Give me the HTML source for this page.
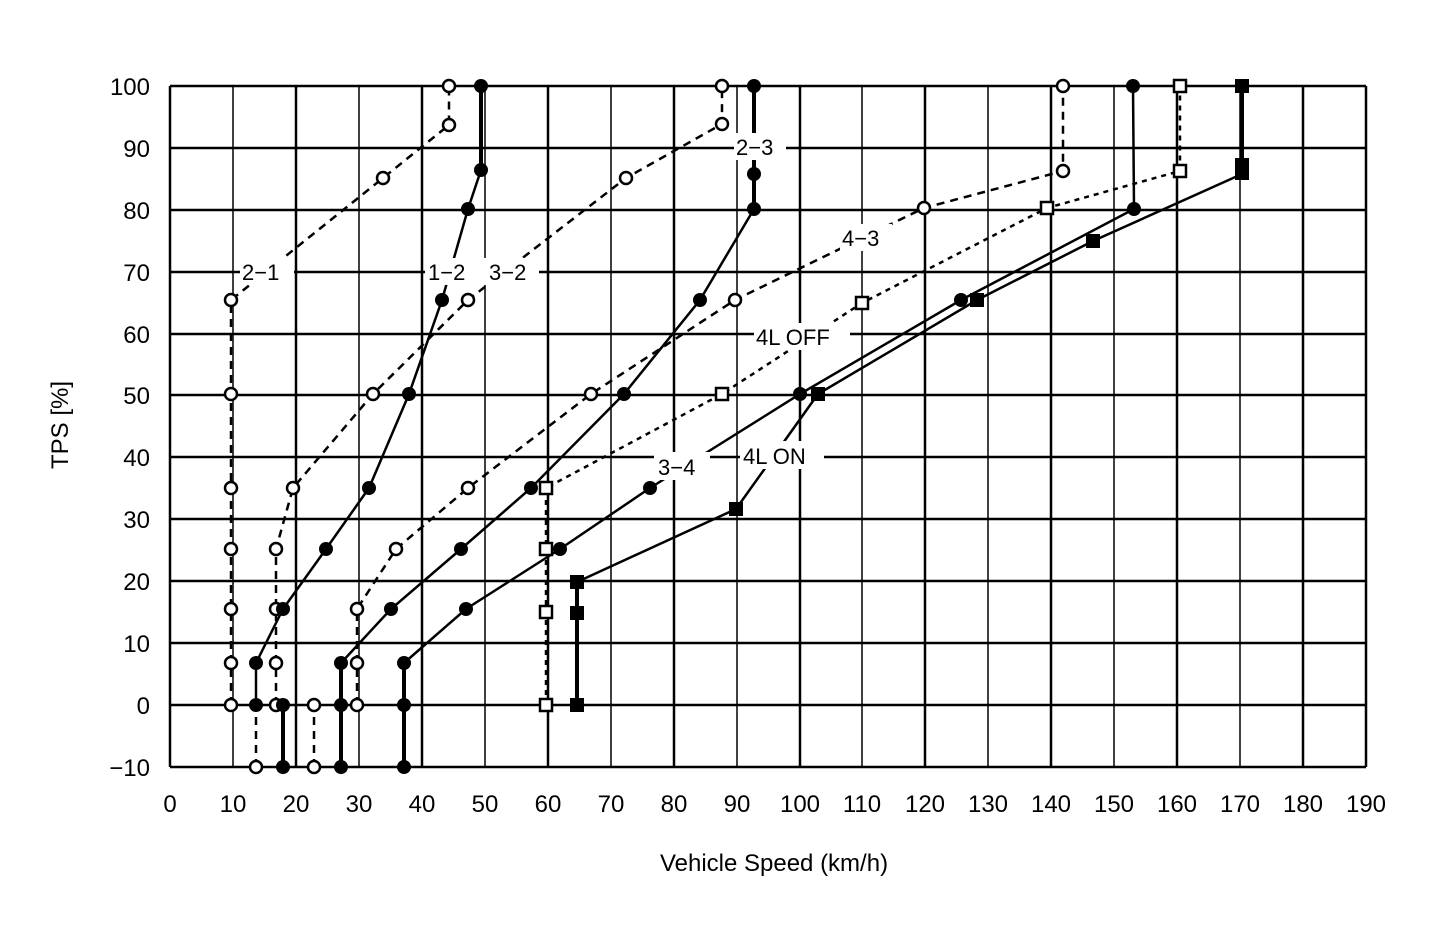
<!DOCTYPE html><html><head><style>body{margin:0;background:#fff}svg{display:block}text{font-family:"Liberation Sans",sans-serif;fill:#000}</style></head><body>
<svg width="1440" height="934" viewBox="0 0 1440 934" xmlns="http://www.w3.org/2000/svg">
<g stroke="#000" fill="none">
<g stroke-width="2.5">
<line x1="170" y1="86" x2="1366" y2="86"/><line x1="170" y1="148" x2="1366" y2="148"/><line x1="170" y1="210" x2="1366" y2="210"/><line x1="170" y1="272" x2="1366" y2="272"/><line x1="170" y1="334" x2="1366" y2="334"/><line x1="170" y1="395" x2="1366" y2="395"/><line x1="170" y1="457" x2="1366" y2="457"/><line x1="170" y1="519" x2="1366" y2="519"/><line x1="170" y1="581" x2="1366" y2="581"/><line x1="170" y1="643" x2="1366" y2="643"/><line x1="170" y1="705" x2="1366" y2="705"/><line x1="170" y1="767" x2="1366" y2="767"/>
<line x1="170" y1="86" x2="170" y2="767"/><line x1="296" y1="86" x2="296" y2="767"/><line x1="422" y1="86" x2="422" y2="767"/><line x1="548" y1="86" x2="548" y2="767"/><line x1="674" y1="86" x2="674" y2="767"/><line x1="800" y1="86" x2="800" y2="767"/><line x1="925" y1="86" x2="925" y2="767"/><line x1="1051" y1="86" x2="1051" y2="767"/><line x1="1177" y1="86" x2="1177" y2="767"/><line x1="1303" y1="86" x2="1303" y2="767"/><line x1="1366" y1="86" x2="1366" y2="767"/>
</g>
<g stroke-width="1.5">
<line x1="233" y1="86" x2="233" y2="767"/><line x1="359" y1="86" x2="359" y2="767"/><line x1="485" y1="86" x2="485" y2="767"/><line x1="611" y1="86" x2="611" y2="767"/><line x1="737" y1="86" x2="737" y2="767"/><line x1="862" y1="86" x2="862" y2="767"/><line x1="988" y1="86" x2="988" y2="767"/><line x1="1114" y1="86" x2="1114" y2="767"/><line x1="1240" y1="86" x2="1240" y2="767"/>
</g>
<g stroke-width="2.5" stroke-dasharray="8,6">
<polyline points="231,705 231,300 383,178 449,125 449,86"/>
<polyline points="276,705 276,549 293,488 373,394 468,300 626,178 722,124 722,86"/>
<polyline points="357,705 357,609 396,549 468,488 591,394 735,300 924,208 1063,171 1063,86"/>
<polyline points="256,767 256,705"/><polyline points="314,767 314,705"/>
</g>
<g stroke-width="2.5" stroke-dasharray="5,5">
<polyline points="546,705 546,488 722,394 862,303 1047,208 1180,171 1180,86"/>
</g>
<g stroke-width="2.5">
<polyline points="256,705 256,663 283,609 326,549 369,488 409,394 442,300 468,209 481,170 481,86"/>
<polyline points="341,663 391,609 461,549 531,488 624,394 700,300 754,209 754,174 754,86"/>
<polyline points="404,663 466,609 560,549 650,488 800,394 961,300 1134,209 1133,86"/>
<polyline points="577,582 736,509 818,394 977,300 1093,241 1242,174"/>
</g>
<g stroke-width="4">
<polyline points="283,705 283,767"/><polyline points="341,663 341,767"/><polyline points="404,663 404,767"/><polyline points="577,582 577,705"/><polyline points="1242,174 1242,86"/><polyline points="481,170 481,86"/><polyline points="754,209 754,86"/>
</g>
</g>
<g fill="#fff">
<rect x="240" y="258" width="54" height="27"/><rect x="425" y="258" width="114" height="27"/><rect x="734" y="133" width="52" height="27"/><rect x="840" y="224" width="52" height="27"/><rect x="754" y="323" width="96" height="27"/><rect x="654" y="452" width="56" height="28"/><rect x="740" y="441" width="84" height="28"/>
</g>
<g font-size="22">
<text x="242" y="280">2−1</text><text x="428" y="280">1−2</text><text x="489" y="280">3−2</text><text x="736" y="155">2−3</text><text x="842" y="246">4−3</text><text x="756" y="345">4L OFF</text><text x="658" y="475">3−4</text><text x="743" y="464">4L ON</text>
</g>
<g stroke="#000" stroke-width="2.5" fill="#fff">
<circle cx="231" cy="300" r="6"/><circle cx="231" cy="394" r="6"/><circle cx="231" cy="488" r="6"/><circle cx="231" cy="549" r="6"/><circle cx="231" cy="609" r="6"/><circle cx="231" cy="663" r="6"/><circle cx="231" cy="705" r="6"/><circle cx="383" cy="178" r="6"/><circle cx="449" cy="125" r="6"/><circle cx="449" cy="86" r="6"/>
<circle cx="276" cy="549" r="6"/><circle cx="276" cy="609" r="6"/><circle cx="276" cy="663" r="6"/><circle cx="276" cy="705" r="6"/><circle cx="293" cy="488" r="6"/><circle cx="373" cy="394" r="6"/><circle cx="468" cy="300" r="6"/><circle cx="626" cy="178" r="6"/><circle cx="722" cy="124" r="6"/><circle cx="722" cy="86" r="6"/>
<circle cx="357" cy="705" r="6"/><circle cx="357" cy="663" r="6"/><circle cx="357" cy="609" r="6"/><circle cx="396" cy="549" r="6"/><circle cx="468" cy="488" r="6"/><circle cx="591" cy="394" r="6"/><circle cx="735" cy="300" r="6"/><circle cx="924" cy="208" r="6"/><circle cx="1063" cy="171" r="6"/><circle cx="1063" cy="86" r="6"/>
<circle cx="256" cy="767" r="6"/><circle cx="314" cy="767" r="6"/><circle cx="314" cy="705" r="6"/>
<rect x="540" y="699" width="12" height="12"/><rect x="540" y="606" width="12" height="12"/><rect x="540" y="543" width="12" height="12"/><rect x="540" y="482" width="12" height="12"/><rect x="716" y="388" width="12" height="12"/><rect x="856" y="297" width="12" height="12"/><rect x="1041" y="202" width="12" height="12"/><rect x="1174" y="165" width="12" height="12"/><rect x="1174" y="80" width="12" height="12"/>
</g>
<g fill="#000">
<circle cx="256" cy="705" r="7"/><circle cx="256" cy="663" r="7"/><circle cx="283" cy="609" r="7"/><circle cx="326" cy="549" r="7"/><circle cx="369" cy="488" r="7"/><circle cx="409" cy="394" r="7"/><circle cx="442" cy="300" r="7"/><circle cx="468" cy="209" r="7"/><circle cx="481" cy="170" r="7"/><circle cx="481" cy="86" r="7"/><circle cx="283" cy="705" r="7"/><circle cx="283" cy="767" r="7"/>
<circle cx="341" cy="767" r="7"/><circle cx="341" cy="705" r="7"/><circle cx="341" cy="663" r="7"/><circle cx="391" cy="609" r="7"/><circle cx="461" cy="549" r="7"/><circle cx="531" cy="488" r="7"/><circle cx="624" cy="394" r="7"/><circle cx="700" cy="300" r="7"/><circle cx="754" cy="209" r="7"/><circle cx="754" cy="174" r="7"/><circle cx="754" cy="86" r="7"/>
<circle cx="404" cy="767" r="7"/><circle cx="404" cy="705" r="7"/><circle cx="404" cy="663" r="7"/><circle cx="466" cy="609" r="7"/><circle cx="560" cy="549" r="7"/><circle cx="650" cy="488" r="7"/><circle cx="800" cy="394" r="7"/><circle cx="961" cy="300" r="7"/><circle cx="1134" cy="209" r="7"/><circle cx="1133" cy="86" r="7"/>
<rect x="570" y="698" width="14" height="14"/><rect x="570" y="606" width="14" height="14"/><rect x="570" y="575" width="14" height="14"/><rect x="729" y="502" width="14" height="14"/><rect x="811" y="387" width="14" height="14"/><rect x="970" y="293" width="14" height="14"/><rect x="1086" y="234" width="14" height="14"/><rect x="1235" y="158" width="14" height="22"/><rect x="1235" y="79" width="14" height="14"/>
</g>
<g font-size="24" text-anchor="end">
<text x="150" y="95">100</text><text x="150" y="157">90</text><text x="150" y="219">80</text><text x="150" y="281">70</text><text x="150" y="343">60</text><text x="150" y="404">50</text><text x="150" y="466">40</text><text x="150" y="528">30</text><text x="150" y="590">20</text><text x="150" y="652">10</text><text x="150" y="714">0</text><text x="150" y="776">−10</text>
</g>
<g font-size="24" text-anchor="middle">
<text x="170" y="812">0</text><text x="233" y="812">10</text><text x="296" y="812">20</text><text x="359" y="812">30</text><text x="422" y="812">40</text><text x="485" y="812">50</text><text x="548" y="812">60</text><text x="611" y="812">70</text><text x="674" y="812">80</text><text x="737" y="812">90</text><text x="800" y="812">100</text><text x="862" y="812">110</text><text x="925" y="812">120</text><text x="988" y="812">130</text><text x="1051" y="812">140</text><text x="1114" y="812">150</text><text x="1177" y="812">160</text><text x="1240" y="812">170</text><text x="1303" y="812">180</text><text x="1366" y="812">190</text>
<text x="774" y="871">Vehicle Speed (km/h)</text>
<text transform="translate(68,425) rotate(-90)">TPS [%]</text>
</g>
</svg>
</body></html>
